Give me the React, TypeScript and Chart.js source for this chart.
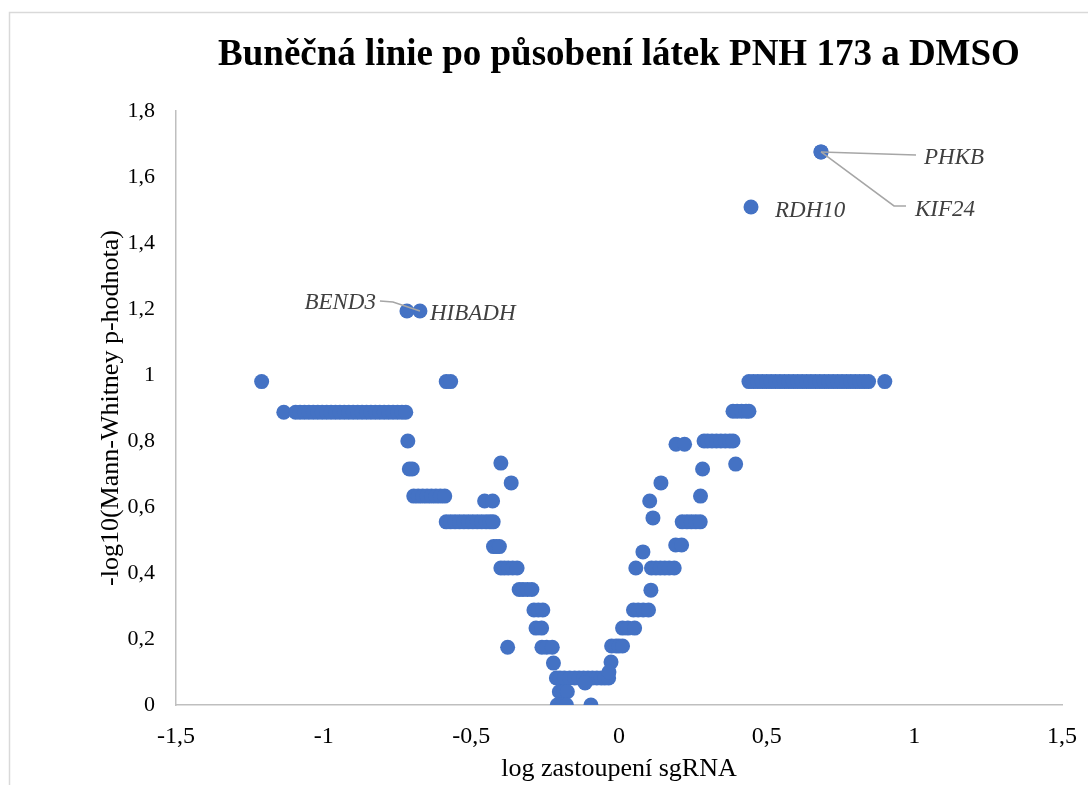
import React, { useEffect, useRef } from "react";
import { Chart, registerables } from "chart.js";

Chart.register(...registerables);

const TITLE = "Buněčná linie po působení látek PNH 173 a DMSO";
const X_TITLE = "log zastoupení sgRNA";
const Y_TITLE = "-log10(Mann-Whitney p-hodnota)";

const X_MIN = -1.5;
const X_MAX = 1.5;
const X_STEP = 0.5;
const Y_MIN = 0;
const Y_MAX = 1.8;
const Y_STEP = 0.2;

// sgRNA points, left branch (x = log fold change, y = -log10 p)
const leftPoints: [number, number][] = [
  [-1.21, 0.98],
  [-1.135, 0.887], [-1.095, 0.887], [-1.08, 0.887], [-1.065, 0.887], [-1.05, 0.887],
  [-1.035, 0.887], [-1.02, 0.887], [-1.005, 0.887], [-0.99, 0.887], [-0.975, 0.887],
  [-0.96, 0.887], [-0.945, 0.887], [-0.93, 0.887], [-0.915, 0.887], [-0.9, 0.887],
  [-0.885, 0.887], [-0.87, 0.887], [-0.855, 0.887], [-0.84, 0.887], [-0.825, 0.887],
  [-0.81, 0.887], [-0.795, 0.887], [-0.78, 0.887], [-0.765, 0.887], [-0.75, 0.887],
  [-0.735, 0.887], [-0.722, 0.887],
  [-0.715, 0.8],
  [-0.71, 0.715], [-0.7, 0.715],
  [-0.695, 0.633], [-0.68, 0.633], [-0.665, 0.633], [-0.65, 0.633], [-0.635, 0.633],
  [-0.62, 0.633], [-0.605, 0.633], [-0.59, 0.633],
  [-0.585, 0.98], [-0.57, 0.98],
  [-0.585, 0.555], [-0.57, 0.555], [-0.555, 0.555], [-0.54, 0.555], [-0.525, 0.555],
  [-0.51, 0.555], [-0.495, 0.555], [-0.48, 0.555], [-0.465, 0.555], [-0.45, 0.555],
  [-0.437, 0.555], [-0.426, 0.555],
  [-0.455, 0.618], [-0.428, 0.618],
  [-0.4, 0.733],
  [-0.365, 0.673],
  [-0.425, 0.48], [-0.415, 0.48], [-0.405, 0.48],
  [-0.4, 0.415], [-0.388, 0.415], [-0.375, 0.415], [-0.36, 0.415], [-0.345, 0.415],
  [-0.338, 0.35], [-0.325, 0.35], [-0.31, 0.35], [-0.295, 0.35],
  [-0.288, 0.288], [-0.273, 0.288], [-0.258, 0.288],
  [-0.281, 0.233], [-0.262, 0.233],
  [-0.377, 0.175],
  [-0.261, 0.175], [-0.245, 0.175], [-0.226, 0.175],
  [-0.222, 0.127],
  [-0.212, 0.082], [-0.2, 0.082], [-0.185, 0.082], [-0.167, 0.082], [-0.15, 0.082],
  [-0.135, 0.082], [-0.12, 0.082], [-0.105, 0.082], [-0.09, 0.082], [-0.075, 0.082],
  [-0.06, 0.082], [-0.048, 0.082], [-0.035, 0.082],
  [-0.115, 0.067],
  [-0.027, 0.13], [-0.034, 0.1],
  [-0.202, 0.04], [-0.188, 0.04], [-0.175, 0.04],
  [-0.209, 0], [-0.192, 0], [-0.178, 0],
  [-0.095, 0],
];

// sgRNA points, right branch
const rightPoints: [number, number][] = [
  [-0.025, 0.179], [-0.01, 0.179], [0.0, 0.179], [0.012, 0.179],
  [0.012, 0.233], [0.03, 0.233], [0.053, 0.233],
  [0.049, 0.288], [0.065, 0.288], [0.082, 0.288], [0.1, 0.288],
  [0.108, 0.348],
  [0.057, 0.415],
  [0.11, 0.415], [0.125, 0.415], [0.14, 0.415], [0.155, 0.415], [0.17, 0.415], [0.187, 0.415],
  [0.081, 0.464],
  [0.192, 0.485], [0.212, 0.485],
  [0.214, 0.555], [0.23, 0.555], [0.245, 0.555], [0.26, 0.555], [0.275, 0.555],
  [0.115, 0.567],
  [0.104, 0.618],
  [0.276, 0.633],
  [0.142, 0.673],
  [0.283, 0.715],
  [0.395, 0.73],
  [0.193, 0.79], [0.222, 0.79],
  [0.288, 0.8], [0.3, 0.8], [0.315, 0.8], [0.33, 0.8], [0.345, 0.8], [0.36, 0.8],
  [0.375, 0.8], [0.386, 0.8],
  [0.386, 0.89], [0.4, 0.89], [0.415, 0.89], [0.43, 0.89], [0.44, 0.89],
  [0.44, 0.98], [0.455, 0.98], [0.47, 0.98], [0.485, 0.98], [0.5, 0.98], [0.515, 0.98],
  [0.53, 0.98], [0.545, 0.98], [0.56, 0.98], [0.575, 0.98], [0.59, 0.98], [0.605, 0.98],
  [0.62, 0.98], [0.635, 0.98], [0.65, 0.98], [0.665, 0.98], [0.68, 0.98], [0.695, 0.98],
  [0.71, 0.98], [0.725, 0.98], [0.74, 0.98], [0.755, 0.98], [0.77, 0.98], [0.785, 0.98],
  [0.8, 0.98], [0.815, 0.98], [0.83, 0.98], [0.845, 0.98], [0.9, 0.98],
];

// labelled genes
const geneNames = ["PHKB", "KIF24", "RDH10", "BEND3", "HIBADH"];
const geneX = [0.684, 0.684, 0.447, -0.674, -0.718];
const geneY = [1.676, 1.676, 1.509, 1.194, 1.194];

// label placement relative to the point, in pixels (style, not data)
type LabelStyle = { dx: number; dy: number; align: CanvasTextAlign; leader?: [number, number][] };
const labelStyles: Record<string, LabelStyle> = {
  PHKB: { dx: 103, dy: 12, align: "left", leader: [[0, 0], [95, 3]] },
  KIF24: { dx: 94, dy: 64, align: "left", leader: [[0, 0], [73, 54], [85, 54]] },
  RDH10: { dx: 24, dy: 10, align: "left" },
  BEND3: { dx: -44, dy: -2, align: "right", leader: [[-40, -10], [-27, -9], [0, 0]] },
  HIBADH: { dx: 23, dy: 9, align: "left" },
};

const SERIF = "'Liberation Serif', 'Times New Roman', serif";
const POINT_COLOR = "#4472C4";
const AXIS_COLOR = "#bfbfbf";

const fmt = (v: number) => String(Math.round(v * 10) / 10).replace(".", ",");

const decorPlugin = {
  id: "decor",
  beforeDraw(chart: any) {
    const { ctx, width, height } = chart;
    ctx.save();
    ctx.fillStyle = "#ffffff";
    ctx.fillRect(0, 0, width, height);
    ctx.strokeStyle = "#d9d9d9";
    ctx.lineWidth = 1.5;
    ctx.beginPath();
    ctx.moveTo(9.5, height);
    ctx.lineTo(9.5, 12.5);
    ctx.lineTo(width, 12.5);
    ctx.stroke();
    ctx.restore();
  },
  afterDatasetsDraw(chart: any) {
    const { ctx } = chart;
    const xs = chart.scales.x;
    const ys = chart.scales.y;
    ctx.save();
    geneNames.forEach((name, i) => {
      const st = labelStyles[name];
      if (!st) return;
      const px = xs.getPixelForValue(geneX[i]);
      const py = ys.getPixelForValue(geneY[i]);
      if (st.leader) {
        ctx.strokeStyle = "#a6a6a6";
        ctx.lineWidth = 1.5;
        ctx.beginPath();
        st.leader.forEach(([lx, ly], k) => {
          if (k === 0) ctx.moveTo(px + lx, py + ly);
          else ctx.lineTo(px + lx, py + ly);
        });
        ctx.stroke();
      }
      ctx.fillStyle = "#404040";
      ctx.font = `italic 23px ${SERIF}`;
      ctx.textAlign = st.align;
      ctx.textBaseline = "alphabetic";
      ctx.fillText(name, px + st.dx, py + st.dy);
    });
    ctx.restore();
  },
};

export default function App() {
  const canvasRef = useRef<HTMLCanvasElement | null>(null);

  useEffect(() => {
    const canvas = canvasRef.current;
    if (!canvas) return;
    const toXY = (p: [number, number]) => ({ x: p[0], y: p[1] });
    const chart = new Chart(canvas, {
      type: "scatter",
      data: {
        datasets: [
          {
            label: "sgRNA",
            data: [...leftPoints, ...rightPoints].map(toXY),
            backgroundColor: POINT_COLOR,
            borderWidth: 0,
            pointRadius: 7.5,
            pointHoverRadius: 7.5,
          },
          {
            label: "geny",
            data: geneX.map((x, i) => ({ x, y: geneY[i] })),
            backgroundColor: POINT_COLOR,
            borderWidth: 0,
            pointRadius: 7.5,
            pointHoverRadius: 7.5,
          },
        ],
      },
      options: {
        responsive: false,
        animation: false,
        devicePixelRatio: 1,
        layout: { autoPadding: false, padding: { left: 96, right: 26, top: 0, bottom: 0 } },
        plugins: {
          legend: { display: false },
          tooltip: { enabled: false },
          title: {
            display: true,
            text: TITLE,
            fullSize: false,
            color: "#000000",
            font: { family: SERIF, size: 37, weight: "bold", lineHeight: 1.2 },
            padding: { top: 33, bottom: 33.6 },
          },
        },
        scales: {
          x: {
            type: "linear",
            min: X_MIN,
            max: X_MAX,
            ticks: {
              stepSize: X_STEP,
              padding: 17,
              color: "#000000",
              font: { family: SERIF, size: 24 },
              callback: (v: any) => fmt(Number(v)),
            },
            grid: { display: false, drawTicks: false },
            border: { display: true, color: AXIS_COLOR, width: 1.5 },
            title: {
              display: true,
              text: X_TITLE,
              color: "#000000",
              font: { family: SERIF, size: 26, lineHeight: 1.2 },
              padding: { top: 0, bottom: 0 },
            },
            afterFit: (scale: any) => {
              scale.height = 80;
              scale.paddingLeft = 0;
              scale.paddingRight = 0;
            },
          },
          y: {
            type: "linear",
            min: Y_MIN,
            max: Y_MAX,
            ticks: {
              stepSize: Y_STEP,
              padding: 21,
              color: "#000000",
              font: { family: SERIF, size: 22 },
              callback: (v: any) => fmt(Number(v)),
            },
            grid: { display: false, drawTicks: false },
            border: { display: true, color: AXIS_COLOR, width: 1.5 },
            title: {
              display: true,
              text: Y_TITLE,
              color: "#000000",
              font: { family: SERIF, size: 26, lineHeight: 1.2 },
              padding: { top: 0, bottom: 0 },
            },
            afterFit: (scale: any) => {
              scale.width = 80;
            },
          },
        },
      },
      plugins: [decorPlugin],
    } as any);
    return () => chart.destroy();
  }, []);

  return (
    <div style={{ position: "absolute", left: 0, top: 0, width: 1088, height: 785, background: "#fff" }}>
      <canvas ref={canvasRef} width={1088} height={785} />
    </div>
  );
}
